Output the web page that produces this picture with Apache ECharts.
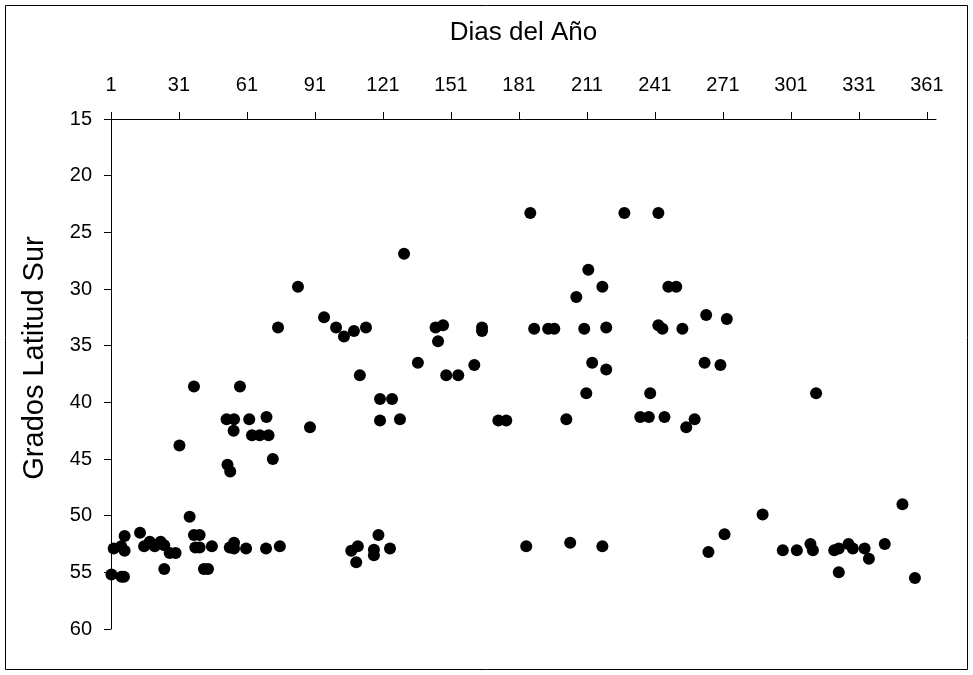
<!DOCTYPE html>
<html>
<head>
<meta charset="utf-8">
<script src="https://cdn.jsdelivr.net/npm/echarts@6/dist/echarts.min.js"></script>
<style>html,body{margin:0;padding:0;background:#fff}#c{width:973px;height:675px}</style>
</head>
<body>
<div id="c"></div>
<script>
var xTitle = 'Dias del Año';
var yTitle = 'Grados Latitud Sur';
var xTicks = [1, 31, 61, 91, 121, 151, 181, 211, 241, 271, 301, 331, 361];
var yTicks = [15, 20, 25, 30, 35, 40, 45, 50, 55, 60];

var days = [
  1.2, 5.6, 6.7, 2.2, 5.5, 7, 7, 13.8, 15.6, 18.1, 20.3, 22.9, 24.5, 26.9, 29.5, 24.5,
  35.7, 37.6, 40.1, 38.2, 40.1, 45.5, 42, 43.8, 53.4, 55.3, 55.3, 60.6, 69.4, 75.5,
  31.2, 37.6, 57.9, 52.0, 55.3, 62, 69.6, 55.1, 63.2, 66.6, 70.5, 72.4, 52.4, 53.6,
  74.7, 83.5, 88.8, 95, 100.3, 103.8, 108.2, 113.5, 110.8, 119.7, 125, 119.7, 128.5, 130.3,
  107, 109.9, 109.2, 119, 117, 117, 124.1,
  136.4, 144.2, 147.5, 145.3, 148.9, 154.2, 161.3, 164.7, 164.7, 171.9, 175.4,
  184.2, 186, 187.7, 193.9, 196.6, 201.9, 203.6, 206.3, 209.8, 210.7, 211.6, 213.3,
  217.8, 219.5, 219.5, 217.8, 227.5, 234.5, 238.3, 238.9, 242.5, 242.5, 244.3, 245.2,
  246.9, 250.4, 253.1, 254.8, 258.5, 262.9, 263.6, 264.6, 269.9, 271.7, 272.7,
  288.5, 297.4, 303.6, 309.6, 310.7, 312.1, 320.1, 322.1, 322.1, 326.4, 328.3, 333.5,
  335.4, 342.4, 350.2, 355.7
];
var lat = [
  55.2, 55.4, 55.4, 52.9, 52.7, 51.8, 53.1, 51.5, 52.7, 52.3, 52.7, 52.3, 52.6, 53.3, 53.3, 54.7,
  50.1, 51.7, 51.7, 52.8, 52.8, 52.7, 54.7, 54.7, 52.8, 52.4, 52.9, 52.9, 52.9, 52.7,
  43.8, 38.6, 38.6, 41.5, 41.5, 41.5, 41.3, 42.5, 42.9, 42.9, 42.9, 45.0, 45.5, 46.1,
  33.4, 29.8, 42.2, 32.5, 33.4, 34.2, 33.7, 33.4, 37.6, 39.7, 39.7, 41.6, 41.5, 26.9,
  53.1, 52.7, 54.1, 51.7, 53.0, 53.5, 52.9,
  36.5, 33.4, 33.2, 34.6, 37.6, 37.6, 36.7, 33.4, 33.7, 41.6, 41.6,
  52.7, 23.3, 33.5, 33.5, 33.5, 41.5, 52.4, 30.7, 33.5, 39.2, 28.3, 36.5,
  29.8, 33.4, 37.1, 52.7, 23.3, 41.3, 41.3, 39.2, 23.3, 33.2, 33.5, 41.3,
  29.8, 29.8, 33.5, 42.2, 41.5, 36.5, 32.3, 53.2, 36.7, 51.65, 32.65,
  49.9, 53.05, 53.05, 52.5, 53.05, 39.2, 53.05, 52.9, 55.0, 52.5, 52.9, 52.9,
  53.8, 52.5, 49.0, 55.5
];

var points = days.map(function (d, i) { return [d, lat[i]]; });
var font = '"Liberation Sans", Arial, sans-serif';

var chart = echarts.init(document.getElementById('c'), null, {renderer: 'canvas'});
chart.setOption({
  animation: false,
  backgroundColor: '#fff',
  graphic: [{
    type: 'rect',
    shape: {x: 5.5, y: 5.5, width: 962, height: 664},
    style: {fill: 'none', stroke: '#000', lineWidth: 1},
    silent: true
  }],
  grid: {left: 111, top: 119, right: 37, bottom: 46, containLabel: false},
  xAxis: {
    type: 'value',
    position: 'top',
    min: 1,
    max: 365,
    interval: 30,
    name: xTitle,
    nameLocation: 'middle',
    nameGap: 73,
    nameTextStyle: {fontFamily: font, fontSize: 26, color: '#000'},
    axisLine: {show: true, onZero: false, lineStyle: {color: '#000', width: 1}},
    axisTick: {show: true, inside: false, length: 7, customValues: xTicks, lineStyle: {color: '#000'}},
    axisLabel: {
      margin: 24, fontFamily: font, fontSize: 20, color: '#000',
      customValues: xTicks
    },
    splitLine: {show: false}
  },
  yAxis: {
    type: 'value',
    inverse: true,
    min: 15,
    max: 60,
    interval: 5,
    name: yTitle,
    nameLocation: 'middle',
    nameGap: 62,
    nameTextStyle: {fontFamily: font, fontSize: 29, color: '#000', padding: [0, 0, 0, 32]},
    axisLine: {show: true, onZero: false, lineStyle: {color: '#000', width: 1}},
    axisTick: {show: true, inside: false, length: 7, customValues: yTicks, lineStyle: {color: '#000'}},
    axisLabel: {
      margin: 19, fontFamily: font, fontSize: 20, color: '#000',
      customValues: yTicks
    },
    splitLine: {show: false}
  },
  series: [{
    type: 'scatter',
    data: points,
    symbol: 'circle',
    symbolSize: 12,
    itemStyle: {color: '#000', opacity: 1},
    emphasis: {disabled: true}
  }]
});
</script>
</body>
</html>
